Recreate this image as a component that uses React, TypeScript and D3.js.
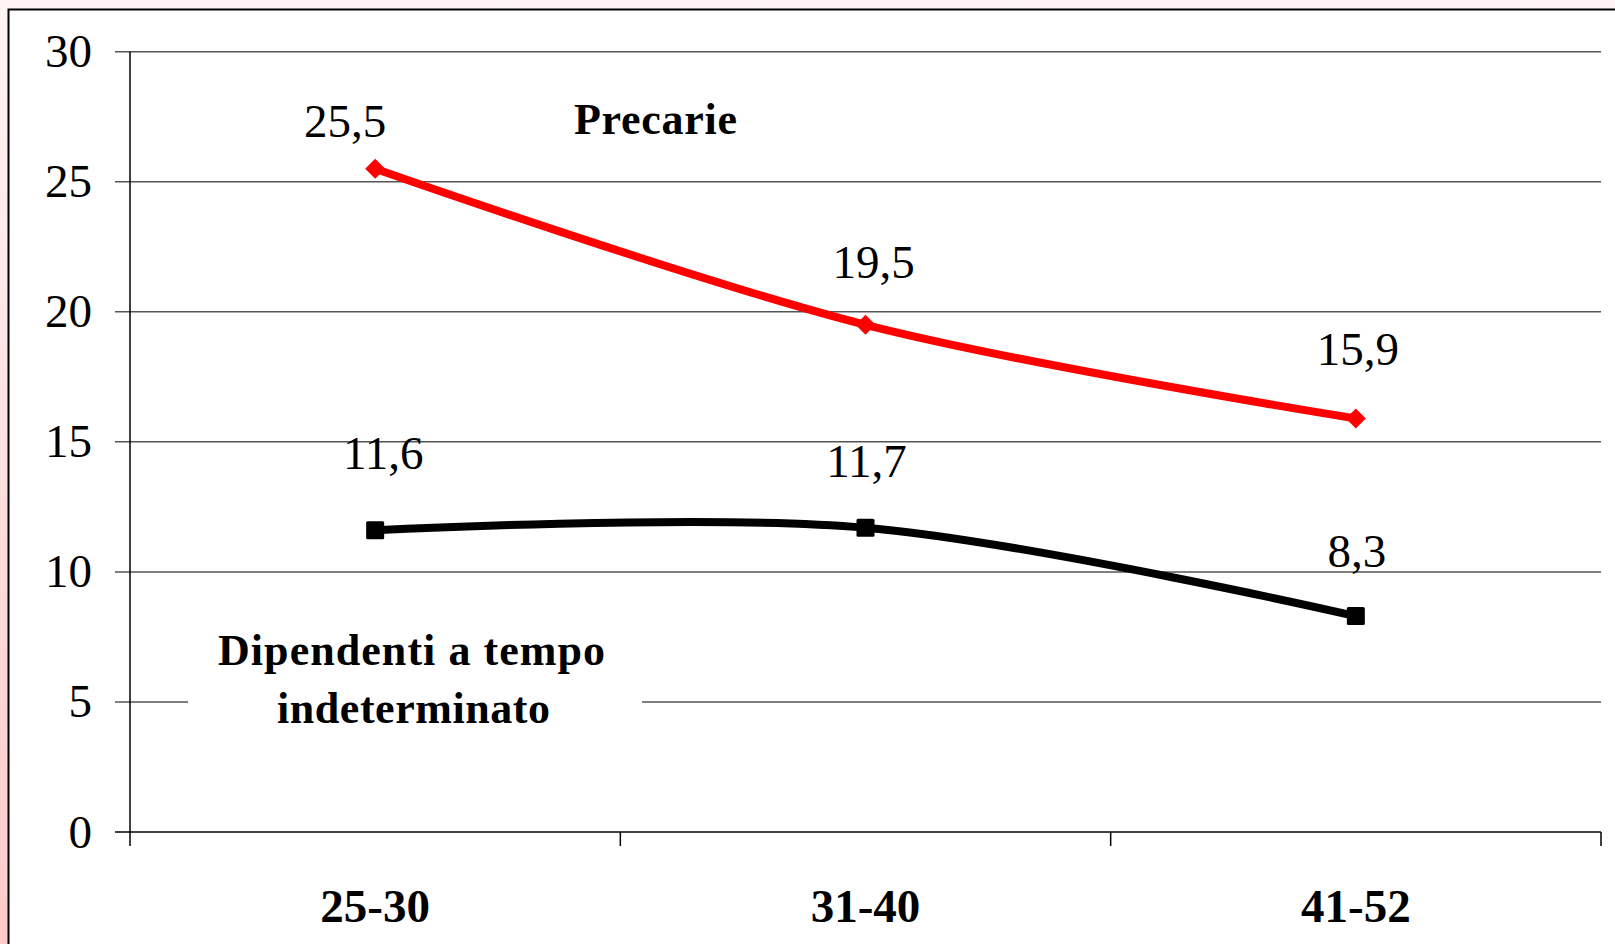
import React from "react";
import * as d3 from "d3";

const categories = ["25-30", "31-40", "41-52"];
const precarie = [25.5, 19.5, 15.9];
const dipendenti = [11.6, 11.7, 8.3];
const precarieLabels = ["25,5", "19,5", "15,9"];
const dipendentiLabels = ["11,6", "11,7", "8,3"];
const yTicks = [0, 5, 10, 15, 20, 25, 30];

// label offsets (dx, dy) relative to the point
const precarieOffsets = [[-30, -32], [8, -47], [2, -53]];
const dipendentiOffsets = [[8, -61], [1, -51], [1, -49]];

const W = 1615;
const H = 944;
const FONT = "'Liberation Serif', 'Times New Roman', serif";

export default function App() {
  const x = d3.scaleBand<string>().domain(categories).range([130, 1601]);
  const y = d3.scaleLinear().domain([0, 30]).range([832, 51.7]);
  const cx = (c: string) => (x(c) as number) + x.bandwidth() / 2;

  const line = d3
    .line<number>()
    .x((_, i) => cx(categories[i]))
    .y((d) => y(d))
    .curve(d3.curveCatmullRom.alpha(0.5));

  const tickXs = [...categories.map((c) => x(c) as number), 1601];

  return (
    <div style={{ position: "absolute", left: 0, top: 0 }}>
      <svg width={W} height={H} style={{ display: "block" }}>
        <defs>
          <linearGradient id="bg" x1="0" y1="0" x2="0" y2="1">
            <stop offset="0" stopColor="#fff4f4" />
            <stop offset="1" stopColor="#ffcaca" />
          </linearGradient>
        </defs>
        <rect x={0} y={0} width={W} height={H} fill="url(#bg)" />
        <rect x={8.5} y={9.5} width={W + 20} height={H + 20} fill="#fff" stroke="#000" strokeWidth={2} />

        {/* gridlines */}
        {yTicks.filter((t) => t > 0).map((t) => (
          <line key={t} x1={115} x2={1601} y1={y(t)} y2={y(t)} stroke="#555" strokeWidth={1.5} />
        ))}
        {/* axis */}
        <line x1={115} x2={1601} y1={y(0)} y2={y(0)} stroke="#000" strokeWidth={1.5} />
        <line x1={130} x2={130} y1={y(30)} y2={846} stroke="#000" strokeWidth={1.5} />
        {tickXs.slice(1).map((tx, i) => (
          <line key={i} x1={tx} x2={tx} y1={y(0)} y2={846} stroke="#000" strokeWidth={1.5} />
        ))}

        {/* y tick labels */}
        {yTicks.map((t) => (
          <text key={t} x={92} y={y(t)} dy="0.33em" textAnchor="end" fontFamily={FONT} fontSize={47} fill="#000">
            {t}
          </text>
        ))}

        {/* category labels */}
        {categories.map((c) => (
          <text key={c} x={cx(c)} y={922} textAnchor="middle" fontFamily={FONT} fontSize={47} fontWeight="bold" fill="#000">
            {c}
          </text>
        ))}

        {/* series label for black line with white background */}
        <rect x={188} y={602} width={454} height={128} fill="#fff" />
        <text x={218} y={665} textLength={387} lengthAdjust="spacing" fontFamily={FONT} fontSize={44} fontWeight="bold" fill="#000">
          Dipendenti a tempo
        </text>
        <text x={277} y={723} textLength={273} lengthAdjust="spacing" fontFamily={FONT} fontSize={44} fontWeight="bold" fill="#000">
          indeterminato
        </text>
        <text x={574} y={134} textLength={163} lengthAdjust="spacing" fontFamily={FONT} fontSize={44} fontWeight="bold" fill="#000">
          Precarie
        </text>

        {/* lines */}
        <path d={line(dipendenti) as string} fill="none" stroke="#000" strokeWidth={8} strokeLinejoin="round" />
        <path d={line(precarie) as string} fill="none" stroke="#ff0000" strokeWidth={8} strokeLinejoin="round" />

        {/* markers */}
        {dipendenti.map((v, i) => (
          <rect key={i} x={cx(categories[i]) - 9} y={y(v) - 9} width={18} height={18} rx={1.5} fill="#000" />
        ))}
        {precarie.map((v, i) => {
          const px = cx(categories[i]);
          const py = y(v);
          return (
            <path key={i} d={`M${px - 10},${py} L${px},${py - 10} L${px + 10},${py} L${px},${py + 10} Z`} fill="#ff0000" />
          );
        })}

        {/* data labels */}
        {precarie.map((v, i) => (
          <text key={i} x={cx(categories[i]) + precarieOffsets[i][0]} y={y(v) + precarieOffsets[i][1]} textAnchor="middle" fontFamily={FONT} fontSize={47} fill="#000">
            {precarieLabels[i]}
          </text>
        ))}
        {dipendenti.map((v, i) => (
          <text key={i} x={cx(categories[i]) + dipendentiOffsets[i][0]} y={y(v) + dipendentiOffsets[i][1]} textAnchor="middle" fontFamily={FONT} fontSize={47} fill="#000">
            {dipendentiLabels[i]}
          </text>
        ))}
      </svg>
    </div>
  );
}
